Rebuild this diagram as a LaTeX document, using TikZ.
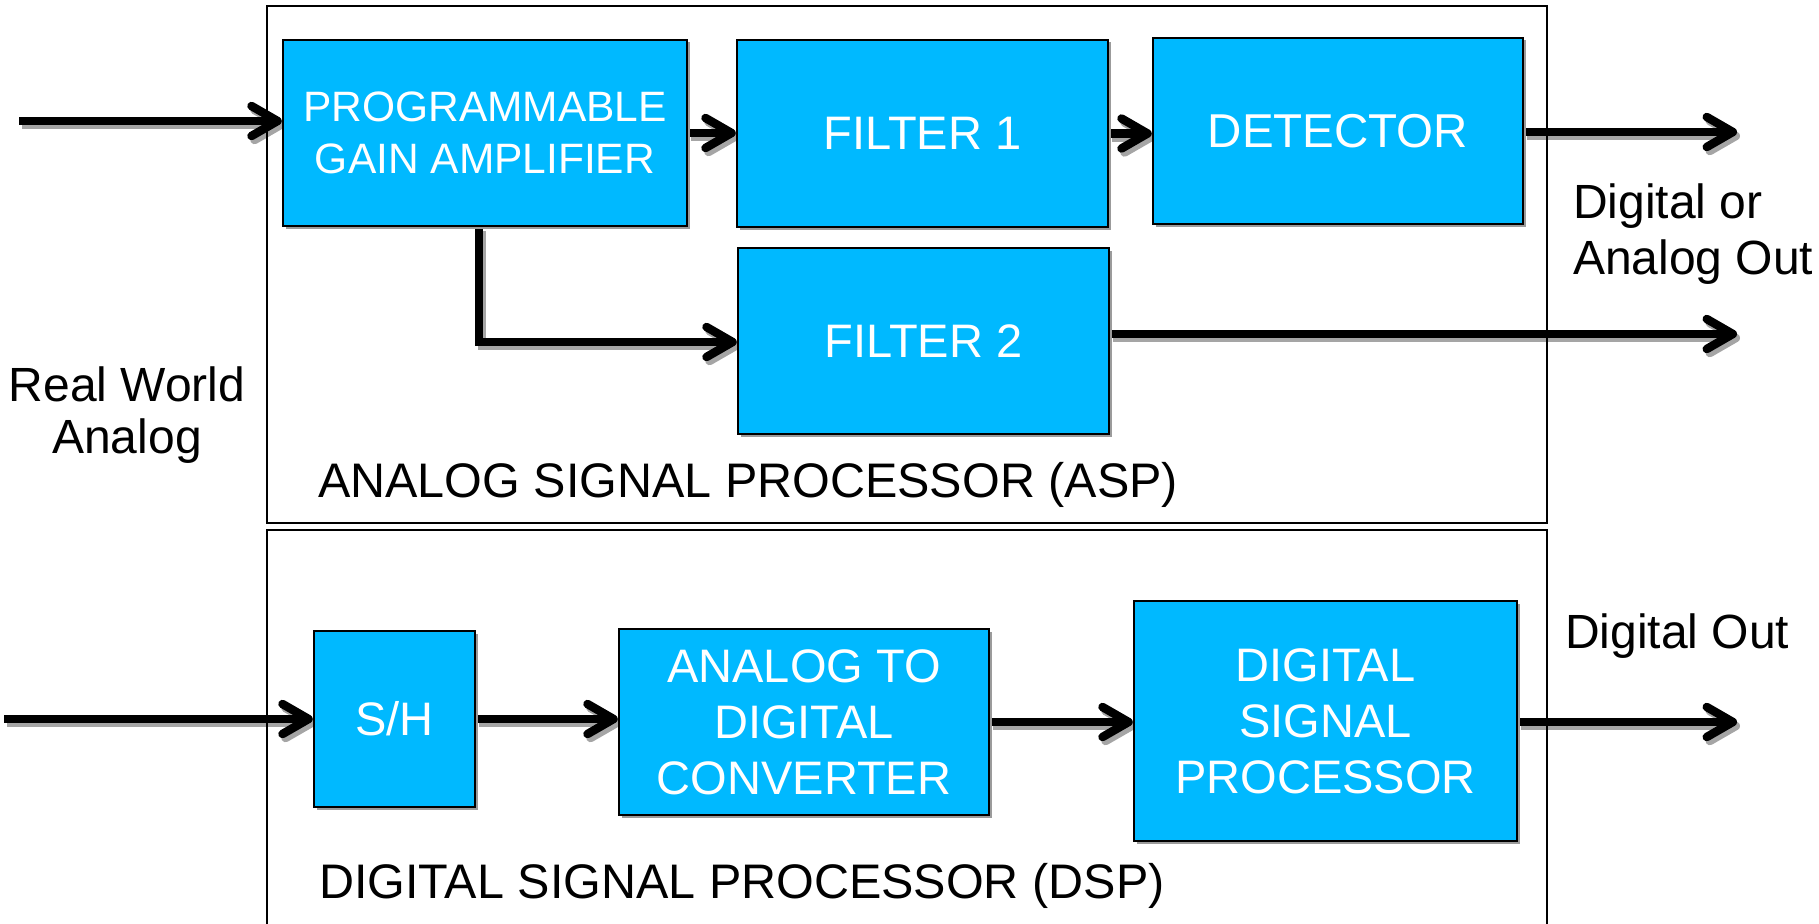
\documentclass[tikz,border=0pt]{standalone}
\usepackage{fontspec}
\setmainfont{Liberation Sans}
\usetikzlibrary{arrows.meta,shadows,calc}
\definecolor{boxblue}{RGB}{0,185,255}
\definecolor{shade}{RGB}{155,155,155}
\definecolor{wireshade}{RGB}{165,165,165}
\pgfdeclarelayer{wires}
\pgfsetlayers{wires,main}
% all signal lines; drawn twice, once as a shifted shadow and once in black
\newcommand\signallines{%
  \draw[wire] (in1) -- (in1 -| pga.west);
  \draw[wire] (pga.east) -- (pga.east -| f1.west);
  \draw[wire] (f1.east) -- (f1.east -| det.west);
  \draw[wire] (det.east |- out1) -- (out1);
  \draw[wire] (pga.south -| bend) -- (bend) -- (bend -| f2.west);
  \draw[wire] (f2.east |- out2) -- (out2);
  \draw[wire] (in2) -- (in2 -| sh.west);
  \draw[wire] (sh.east) -- (sh.east -| adc.west);
  \draw[wire] (adc.east) -- (adc.east -| dsp.west);
  \draw[wire] (dsp.east |- out3) -- (out3);
}
\begin{document}
\begin{tikzpicture}[x=1pt,y=-1pt,
  blk/.style={draw=black, line width=2.5pt, fill=boxblue, text=white,
    align=center, inner sep=0pt, font=\fontsize{47}{56}\selectfont,
    drop shadow={shadow xshift=2.5pt, shadow yshift=-2.5pt, fill=shade, opacity=1}},
  wire/.style={line width=8.5pt, -{Straight Barb[round,length=26pt,width=30pt]}},
  frame/.style={draw=black, line width=2pt},
  lbl/.style={font=\fontsize{48.5}{57}\selectfont, inner sep=0pt}]
\useasboundingbox (0,0) rectangle (1819,923);

% processing blocks
\node[blk, minimum width=404pt, minimum height=186pt, font=\fontsize{42.5}{52}\selectfont]
  (pga) at (485,133) {PROGRAMMABLE\\GAIN AMPLIFIER};
\node[blk, minimum width=371pt, minimum height=187pt] (f1) at (922.5,133.5) {FILTER 1};
\node[blk, minimum width=370pt, minimum height=186pt, font=\fontsize{47.5}{56}\selectfont] (det) at (1338,131) {DETECTOR};
\node[blk, minimum width=371pt, minimum height=186pt] (f2) at (923.5,341) {FILTER 2};
\node[blk, minimum width=161pt, minimum height=176pt] (sh) at (394.5,719) {S/H};
\node[blk, minimum width=370pt, minimum height=186pt] (adc) at (804,722) {ANALOG TO\\DIGITAL\\CONVERTER};
\node[blk, minimum width=383pt, minimum height=240pt] (dsp) at (1325.5,721) {DIGITAL\\SIGNAL\\PROCESSOR};

% free ends of the signal lines
\coordinate (in1) at (19,121);
\coordinate (out1) at (1737,132);
\coordinate (bend) at (479,342);
\coordinate (out2) at (1737,334);
\coordinate (in2) at (4,719);
\coordinate (out3) at (1737,722);

% signal lines with their shadow, kept underneath the blocks
\begin{pgfonlayer}{wires}
  \begin{scope}[transform canvas={shift={(3pt,-4pt)}}, color=wireshade]
    \signallines
  \end{scope}
  \begin{scope}[color=black]
    \signallines
  \end{scope}
\end{pgfonlayer}

% enclosing frames
\draw[frame] (267,6) rectangle (1547,523);
\draw[frame] (267,924) -- (267,530) -- (1547,530) -- (1547,924);

% labels
\node[lbl, font=\fontsize{48}{52}\selectfont, align=center, anchor=north] (rwa) at (127,367) {Real World\\Analog};
\node[lbl, anchor=base west] (asp) at (318,497) {ANALOG SIGNAL PROCESSOR (ASP)};
\node[lbl, anchor=base west] (dspl) at (319,898) {DIGITAL SIGNAL PROCESSOR (DSP)};
\node[lbl, align=left, anchor=north west, font=\fontsize{48}{56}\selectfont] (doa) at (1573,184) {Digital or\\Analog Out};
\node[lbl, anchor=base west, font=\fontsize{48}{56}\selectfont] (dout) at (1565,648) {Digital Out};
\end{tikzpicture}
\end{document}
